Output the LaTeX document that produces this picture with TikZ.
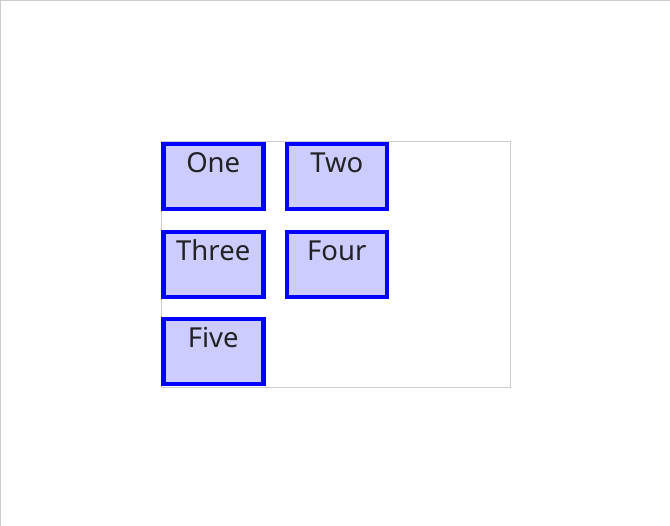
\documentclass[tikz,border=0pt]{standalone}
\usepackage{fontspec}
\setmainfont{Noto Sans}
\definecolor{boxfill}{HTML}{CCCCFF}
\definecolor{boxline}{HTML}{0000FF}
\definecolor{frame}{HTML}{CCCCCC}
\definecolor{txt}{HTML}{222222}
\begin{document}
\begin{tikzpicture}[x=1pt,y=-1pt,
  item/.style={draw=boxline,fill=boxfill,line width=4.5pt,rectangle,
    minimum width=100pt,inner xsep=0pt,inner ysep=0pt,
    text height=28pt,text depth=37pt,anchor=north west,
    font=\fontsize{27.5}{32}\selectfont,text=txt}]
\useasboundingbox (0,0) rectangle (670,526);
\draw[frame,line width=1.2pt] (0.6,526) -- (0.6,0.6) -- (670,0.6);
\node[draw=frame,line width=1pt,rectangle,anchor=north west,
  minimum width=349pt,minimum height=246pt,inner sep=0pt] (cont) at (160.5,141.5) {};
\node[item] (one) at (161,142) {One};
\node[item] (two) at (284.5,142) {Two};
\node[item] (three) at (161,230) {Three};
\node[item] (four) at (284.5,230) {Four};
\node[item] (five) at (161,317) {Five};
\end{tikzpicture}
\end{document}
